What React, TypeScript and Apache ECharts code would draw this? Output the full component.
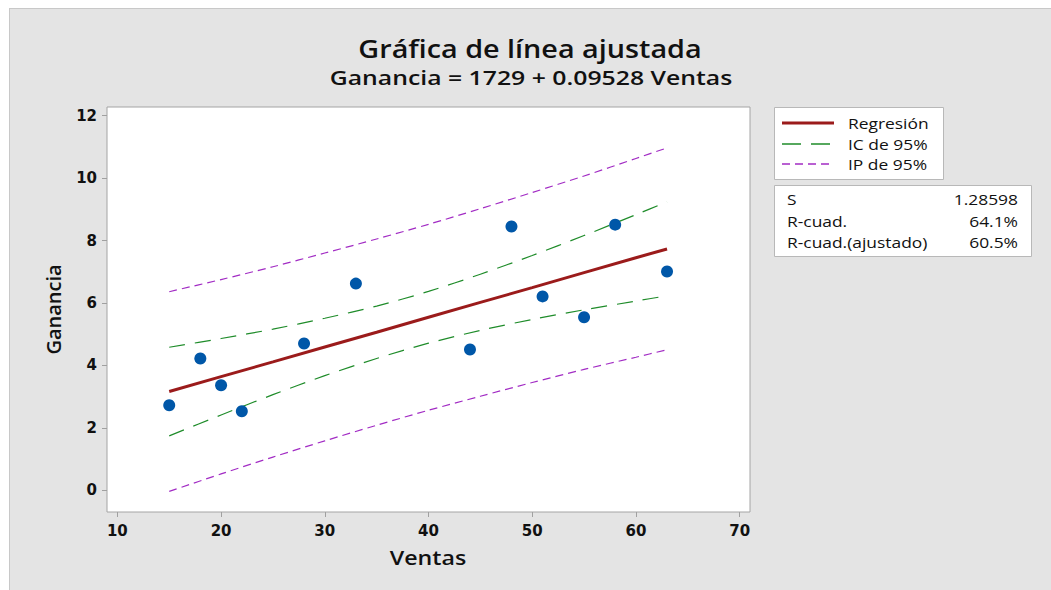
import React, { useEffect, useRef } from "react";
import * as echarts from "echarts";

const ventas = [15, 18, 20, 22, 28, 33, 44, 48, 51, 55, 58, 63];
const ganancia = [2.72, 4.22, 3.36, 2.53, 4.7, 6.62, 4.51, 8.45, 6.21, 5.54, 8.51, 7.01];

const bandX = [15, 20, 25, 30, 35, 40, 45, 50, 55, 60, 63];
const fitY = [3.16, 3.64, 4.11, 4.59, 5.06, 5.54, 6.02, 6.49, 6.97, 7.45, 7.73];
const ciUpper = [4.58, 4.86, 5.16, 5.51, 5.9, 6.37, 6.92, 7.52, 8.16, 8.83, 9.24];
const ciLower = [1.74, 2.41, 3.06, 3.67, 4.22, 4.71, 5.12, 5.47, 5.78, 6.06, 6.23];
const piUpper = [6.36, 6.75, 7.16, 7.6, 8.05, 8.52, 9.02, 9.54, 10.07, 10.63, 10.97];
const piLower = [-0.04, 0.52, 1.06, 1.58, 2.08, 2.56, 3.01, 3.45, 3.87, 4.26, 4.5];

const xTicks = [10, 20, 30, 40, 50, 60, 70];
const yTicks = [0, 2, 4, 6, 8, 10, 12];

const titleText = "Gráfica de línea ajustada";
const subtitleText = "Ganancia = 1729 + 0.09528 Ventas";
const xName = "Ventas";
const yName = "Ganancia";
const statLabels = ["S", "R-cuad.", "R-cuad.(ajustado)"];
const statValues = ["1.28598", "64.1%", "60.5%"];
const legendNames = ["Regresión", "IC de 95%", "IP de 95%"];

const FONT = '"Open Sans", "Noto Sans", sans-serif';
const TICKFONT = '"DejaVu Sans", sans-serif';
const RED = "#9b1b1b";
const GREEN = "#1f8c2a";
const PURPLE = "#a22cc4";
const BLUE = "#0057a8";
const STRETCH = 1.16;

const zip = (xs: number[], ys: number[]) => xs.map((x, i) => [x, ys[i]]);

const txt = (
  text: string,
  x: number,
  y: number,
  font: string,
  align: string,
  scaleX = STRETCH
) => ({
  type: "text",
  x,
  y,
  scaleX,
  style: { text, x: 0, y: 0, fill: "#111", font, align, verticalAlign: "middle" },
});

export default function App() {
  const ref = useRef<HTMLDivElement>(null);

  useEffect(() => {
    if (!ref.current) return;
    const chart = echarts.init(ref.current, null, { renderer: "svg" });

    const legendY = [123, 144, 164];
    const legendStyles = [
      { stroke: RED, lineWidth: 3, lineDash: null as any },
      { stroke: GREEN, lineWidth: 1.5, lineDash: [19, 10] },
      { stroke: PURPLE, lineWidth: 1.5, lineDash: [8, 5] },
    ];
    const statY = [199, 221, 242];

    const graphic: any[] = [
      txt(titleText, 530, 48, `600 25px ${FONT}`, "center", 1.15),
      txt(subtitleText, 531, 77, `600 20px ${FONT}`, "center", 1.24),
      txt(xName, 428, 557, `600 20px ${FONT}`, "center"),
      {
        type: "rect",
        shape: { x: 774.5, y: 107.5, width: 169, height: 72 },
        style: { fill: "#fff", stroke: "#b8b8b8", lineWidth: 1 },
      },
      ...legendNames.flatMap((n, i) => [
        {
          type: "line",
          shape: { x1: 782, y1: legendY[i], x2: 834, y2: legendY[i] },
          style: {
            stroke: legendStyles[i].stroke,
            lineWidth: legendStyles[i].lineWidth,
            lineDash: legendStyles[i].lineDash,
          },
        },
        txt(n, 848, legendY[i], `15px ${FONT}`, "left"),
      ]),
      {
        type: "rect",
        shape: { x: 774.5, y: 185.5, width: 257, height: 71 },
        style: { fill: "#fff", stroke: "#b8b8b8", lineWidth: 1 },
      },
      ...statLabels.flatMap((s, i) => [
        txt(s, 787, statY[i], `15px ${FONT}`, "left"),
        txt(statValues[i], 1018, statY[i], `15px ${FONT}`, "right"),
      ]),
    ];

    const option: any = {
      animation: false,
      backgroundColor: "transparent",
      grid: {
        show: true,
        left: 107,
        top: 107,
        right: 301,
        bottom: 78,
        backgroundColor: "#ffffff",
        borderColor: "#a4a4a4",
        borderWidth: 1,
      },
      xAxis: {
        type: "value",
        min: 9,
        max: 71,
        axisLine: { show: false, onZero: false },
        splitLine: { show: false },
        axisTick: {
          show: true,
          length: 5,
          lineStyle: { color: "#a0a0a0" },
          customValues: xTicks,
        },
        axisLabel: {
          customValues: xTicks,
          margin: 11,
          fontFamily: TICKFONT,
          fontSize: 15,
          fontWeight: "bold",
          color: "#111",
        },
      },
      yAxis: {
        type: "value",
        min: -0.7,
        max: 12.28,
        name: yName,
        nameLocation: "middle",
        nameGap: 44,
        nameRotate: 90,
        nameTextStyle: { fontFamily: FONT, fontSize: 20, fontWeight: 600, color: "#111" },
        axisLine: { show: false, onZero: false },
        splitLine: { show: false },
        axisTick: {
          show: true,
          length: 5,
          lineStyle: { color: "#a0a0a0" },
          customValues: yTicks,
        },
        axisLabel: {
          customValues: yTicks,
          margin: 10,
          fontFamily: TICKFONT,
          fontSize: 15,
          fontWeight: "bold",
          color: "#111",
        },
      },
      series: [
        {
          name: "IP superior",
          type: "line",
          data: zip(bandX, piUpper),
          symbol: "none",
          smooth: 0.3,
          clip: false,
          lineStyle: { color: PURPLE, width: 1.2, type: [8, 5] },
        },
        {
          name: "IP inferior",
          type: "line",
          data: zip(bandX, piLower),
          symbol: "none",
          smooth: 0.3,
          clip: false,
          lineStyle: { color: PURPLE, width: 1.2, type: [8, 5] },
        },
        {
          name: "IC superior",
          type: "line",
          data: zip(bandX, ciUpper),
          symbol: "none",
          smooth: 0.3,
          clip: false,
          lineStyle: { color: GREEN, width: 1.2, type: [16, 10] },
        },
        {
          name: "IC inferior",
          type: "line",
          data: zip(bandX, ciLower),
          symbol: "none",
          smooth: 0.3,
          clip: false,
          lineStyle: { color: GREEN, width: 1.2, type: [16, 10] },
        },
        {
          name: "Regresión",
          type: "line",
          data: zip(bandX, fitY),
          symbol: "none",
          clip: false,
          lineStyle: { color: RED, width: 3 },
        },
        {
          name: "Datos",
          type: "scatter",
          data: zip(ventas, ganancia),
          symbol: "circle",
          symbolSize: 12,
          itemStyle: { color: BLUE, opacity: 1 },
          z: 5,
        },
      ],
      graphic,
    };

    chart.setOption(option);
    return () => chart.dispose();
  }, []);

  return (
    <div
      style={{
        position: "fixed",
        left: 0,
        top: 0,
        width: 1051,
        height: 590,
        background: "#ffffff",
        overflow: "hidden",
      }}
    >
      <div
        style={{
          position: "absolute",
          left: 9,
          top: 8,
          right: 0,
          bottom: 0,
          background: "#e4e4e4",
          borderTop: "1px solid #c8c8c8",
          borderLeft: "1px solid #c8c8c8",
        }}
      />
      <div
        ref={ref}
        style={{ position: "absolute", left: 0, top: 0, width: 1051, height: 590 }}
      />
    </div>
  );
}
